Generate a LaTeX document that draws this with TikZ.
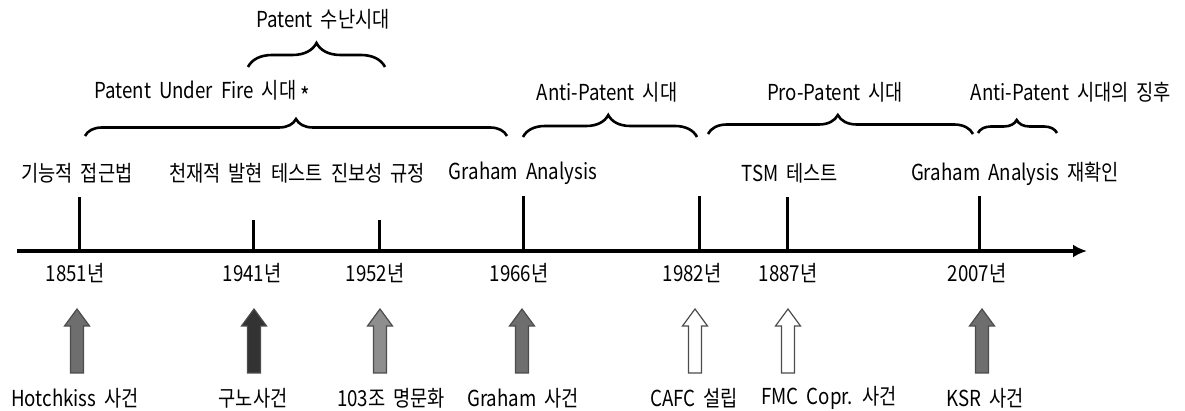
\documentclass[tikz,border=0pt]{standalone}
\usepackage{fontspec}
\setmainfont[FakeStretch=0.85, WordSpace=1.9]{Noto Sans CJK KR}
\usetikzlibrary{arrows.meta,decorations.pathreplacing}

\definecolor{evtmid}{HTML}{6E6E6E}
\definecolor{evtdark}{HTML}{333333}
\definecolor{evtlight}{HTML}{8E8E8E}

% block arrow under a year: x, fill colour
\newcommand{\evtarrow}[2]{%
  \filldraw[evt, fill=#2] (#1-6.5,373) -- (#1-6.5,326) -- (#1-12.5,326) -- (#1,309)
    -- (#1+12.5,326) -- (#1+6.5,326) -- (#1+6.5,373) -- cycle;}

\begin{document}
\begin{tikzpicture}[x=0.5pt, y=-0.5pt, >={Latex[length=7pt,width=6.5pt]},
  lbl/.style={font=\fontsize{11}{13}\selectfont, inner sep=1pt},
  yeartick/.style={line width=1.5pt},
  era/.style={decorate, decoration={brace, amplitude=#1}, line width=1.3pt},
  era/.default=9pt,
  evt/.style={draw=black!70, line width=0.6pt}]
\useasboundingbox (0,0) rectangle (1185,411);
\def\ax{251}  % axis height
% Zeitachse
\coordinate (start) at (17,\ax);
\coordinate (end)   at (1087,\ax);
\draw[->, line width=1.9pt] (start) -- (end);
% ticks
\coordinate (x1851) at (79,\ax);
\coordinate (x1941) at (253,\ax);
\coordinate (x1952) at (379,\ax);
\coordinate (x1966) at (523,\ax);
\coordinate (x1982) at (699,\ax);
\coordinate (x1887) at (787,\ax);
\coordinate (x2007) at (979,\ax);
\draw[yeartick] (x1851) -- (79,197);
\draw[yeartick] (x1941) -- (253,220);
\draw[yeartick] (x1952) -- (379,220);
\draw[yeartick] (x1966) -- (523,196);
\draw[yeartick] (x1982) -- (699,196);
\draw[yeartick] (x1887) -- (787,197);
\draw[yeartick] (x2007) -- (979,196);
% eras
\node[lbl] (p0) at (323,19) {Patent 수난시대};
\node[lbl] (p1) at (202,93) {Patent Under Fire 시대\,\raisebox{-0.55ex}{\large *}};
\node[lbl] (p2) at (607,92) {Anti-Patent 시대};
\node[lbl] (p3) at (835,92) {Pro-Patent 시대};
\node[lbl] (p4) at (1071,92) {Anti-Patent 시대의 징후};
\draw[era=12pt]  (248,67)  -- (385,67);
\draw[era=8.5pt, decoration={aspect=0.5}] (85,136)  -- (507,136);
\draw[era=11pt, decoration={aspect=0.49}]  (523,137) -- (697,137);
\draw[era=9.5pt, decoration={aspect=0.49}] (708,134) -- (973,134);
\draw[era=6.5pt, decoration={aspect=0.49}] (978,133) -- (1057,133);
% tests
\node[lbl] (t1851) at (77,173)   {기능적 접근법};
\node[lbl] (t1941) at (246,173)  {천재적 발현 테스트};
\node[lbl] (t1952) at (378,173)  {진보성 규정};
\node[lbl] (t1966) at (523,173)  {Graham Analysis};
\node[lbl] (t1887) at (790,173)  {TSM 테스트};
\node[lbl] (t2007) at (1015,174) {Graham Analysis 재확인};
% years
\node[lbl] (y1851) at (75,273)  {1851년};
\node[lbl] (y1941) at (252,273) {1941년};
\node[lbl] (y1952) at (375,273) {1952년};
\node[lbl] (y1966) at (519,273) {1966년};
\node[lbl] (y1982) at (692,273) {1982년};
\node[lbl] (y1887) at (788,273) {1887년};
\node[lbl] (y2007) at (977,273) {2007년};
% events
\evtarrow{77}{evtmid}
\evtarrow{254}{evtdark}
\evtarrow{380}{evtlight}
\evtarrow{522}{evtmid}
\evtarrow{695}{white}
\evtarrow{788}{white}
\evtarrow{982}{evtmid}
\node[lbl] (e1851) at (75,398)  {Hotchkiss 사건};
\node[lbl] (e1941) at (253,398) {구노사건};
\node[lbl] (e1952) at (391,398) {103조 명문화};
\node[lbl] (e1966) at (523,398) {Graham 사건};
\node[lbl] (e1982) at (694,398) {CAFC 설립};
\node[lbl] (e1887) at (829,398) {FMC Copr. 사건};
\node[lbl] (e2007) at (985,398) {KSR 사건};
\end{tikzpicture}
\end{document}
